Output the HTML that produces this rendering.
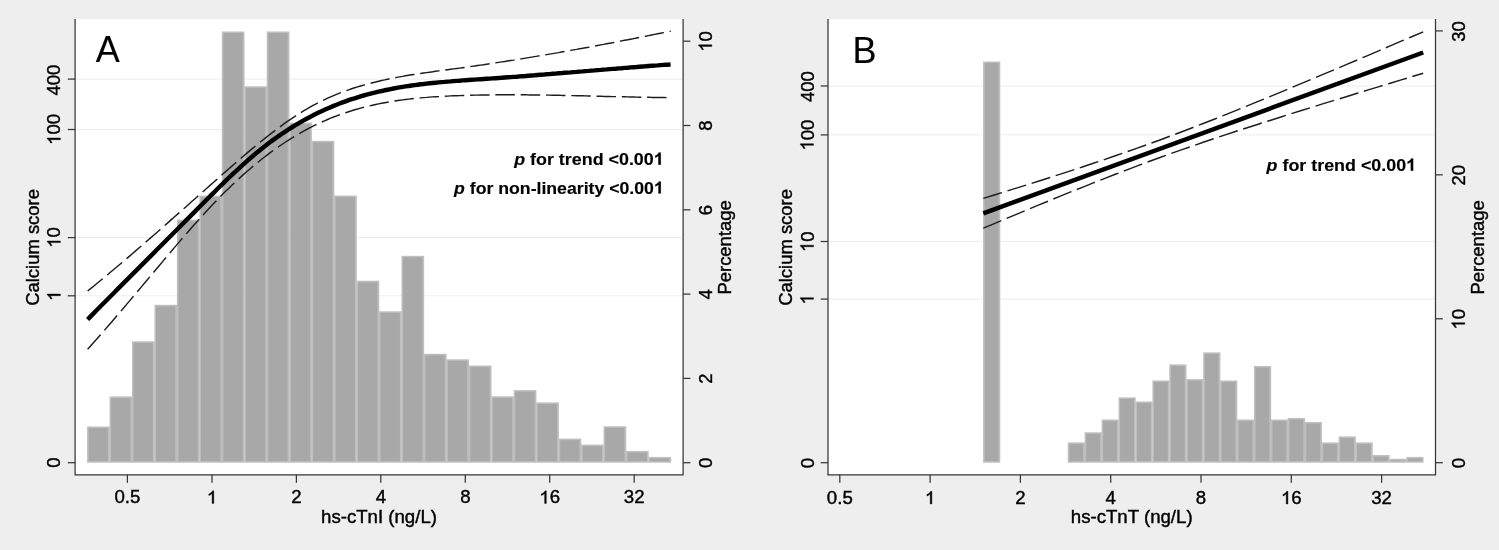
<!DOCTYPE html>
<html><head><meta charset="utf-8"><title>Figure</title>
<style>
html,body{margin:0;padding:0;background:#eeeeee;}
body{width:1499px;height:550px;overflow:hidden;}
svg{will-change:transform;position:absolute;left:0;top:0;display:block;font-family:"Liberation Sans",sans-serif;}
text,.g{fill:#000;stroke:#000;stroke-width:0.4px;}
.h{fill:none;stroke:none;}
</style></head><body>
<svg width="1499" height="550" viewBox="0 0 1499 550">
<rect width="1499" height="550" fill="#eeeeee"/>
<g style="filter:blur(0.4px)">
<rect x="-5" y="-5" width="1509" height="560" fill="#eeeeee"/>
<rect x="75.1" y="19.1" width="608.0" height="455.7" fill="#fff"/>
<line x1="75.1" x2="683.1" y1="295.8" y2="295.8" stroke="#ededed" stroke-width="1"/>
<line x1="75.1" x2="683.1" y1="237.6" y2="237.6" stroke="#ededed" stroke-width="1"/>
<line x1="75.1" x2="683.1" y1="129.5" y2="129.5" stroke="#ededed" stroke-width="1"/>
<line x1="75.1" x2="683.1" y1="79.1" y2="79.1" stroke="#ededed" stroke-width="1"/>
<rect x="87.10" y="426.50" width="22.70" height="36.20" fill="#bebebe"/>
<rect x="109.55" y="396.40" width="22.70" height="66.30" fill="#bebebe"/>
<rect x="132.01" y="341.30" width="22.70" height="121.40" fill="#bebebe"/>
<rect x="154.46" y="304.80" width="22.70" height="157.90" fill="#bebebe"/>
<rect x="176.92" y="219.60" width="22.70" height="243.10" fill="#bebebe"/>
<rect x="199.37" y="195.60" width="22.70" height="267.10" fill="#bebebe"/>
<rect x="221.82" y="31.50" width="22.70" height="431.20" fill="#bebebe"/>
<rect x="244.28" y="86.30" width="22.70" height="376.40" fill="#bebebe"/>
<rect x="266.73" y="31.50" width="22.70" height="431.20" fill="#bebebe"/>
<rect x="289.19" y="122.60" width="22.70" height="340.10" fill="#bebebe"/>
<rect x="311.64" y="140.80" width="22.70" height="321.90" fill="#bebebe"/>
<rect x="334.09" y="195.60" width="22.70" height="267.10" fill="#bebebe"/>
<rect x="356.55" y="280.70" width="22.70" height="182.00" fill="#bebebe"/>
<rect x="379.00" y="311.30" width="22.70" height="151.40" fill="#bebebe"/>
<rect x="401.46" y="255.80" width="22.70" height="206.90" fill="#bebebe"/>
<rect x="423.91" y="353.80" width="22.70" height="108.90" fill="#bebebe"/>
<rect x="446.36" y="359.30" width="22.70" height="103.40" fill="#bebebe"/>
<rect x="468.82" y="365.50" width="22.70" height="97.20" fill="#bebebe"/>
<rect x="491.27" y="396.30" width="22.70" height="66.40" fill="#bebebe"/>
<rect x="513.73" y="390.10" width="22.70" height="72.60" fill="#bebebe"/>
<rect x="536.18" y="402.40" width="22.70" height="60.30" fill="#bebebe"/>
<rect x="558.63" y="438.60" width="22.70" height="24.10" fill="#bebebe"/>
<rect x="581.09" y="444.60" width="22.70" height="18.10" fill="#bebebe"/>
<rect x="603.54" y="426.30" width="22.70" height="36.40" fill="#bebebe"/>
<rect x="626.00" y="450.90" width="22.70" height="11.80" fill="#bebebe"/>
<rect x="648.45" y="456.90" width="22.70" height="5.80" fill="#bebebe"/>
<rect x="88.65" y="428.05" width="19.35" height="33.10" fill="#a8a8a8"/>
<rect x="111.10" y="397.95" width="19.35" height="63.20" fill="#a8a8a8"/>
<rect x="133.56" y="342.85" width="19.35" height="118.30" fill="#a8a8a8"/>
<rect x="156.01" y="306.35" width="19.35" height="154.80" fill="#a8a8a8"/>
<rect x="178.47" y="221.15" width="19.35" height="240.00" fill="#a8a8a8"/>
<rect x="200.92" y="197.15" width="19.35" height="264.00" fill="#a8a8a8"/>
<rect x="223.37" y="33.05" width="19.35" height="428.10" fill="#a8a8a8"/>
<rect x="245.83" y="87.85" width="19.35" height="373.30" fill="#a8a8a8"/>
<rect x="268.28" y="33.05" width="19.35" height="428.10" fill="#a8a8a8"/>
<rect x="290.74" y="124.15" width="19.35" height="337.00" fill="#a8a8a8"/>
<rect x="313.19" y="142.35" width="19.35" height="318.80" fill="#a8a8a8"/>
<rect x="335.64" y="197.15" width="19.35" height="264.00" fill="#a8a8a8"/>
<rect x="358.10" y="282.25" width="19.35" height="178.90" fill="#a8a8a8"/>
<rect x="380.55" y="312.85" width="19.35" height="148.30" fill="#a8a8a8"/>
<rect x="403.01" y="257.35" width="19.35" height="203.80" fill="#a8a8a8"/>
<rect x="425.46" y="355.35" width="19.35" height="105.80" fill="#a8a8a8"/>
<rect x="447.91" y="360.85" width="19.35" height="100.30" fill="#a8a8a8"/>
<rect x="470.37" y="367.05" width="19.35" height="94.10" fill="#a8a8a8"/>
<rect x="492.82" y="397.85" width="19.35" height="63.30" fill="#a8a8a8"/>
<rect x="515.28" y="391.65" width="19.35" height="69.50" fill="#a8a8a8"/>
<rect x="537.73" y="403.95" width="19.35" height="57.20" fill="#a8a8a8"/>
<rect x="560.18" y="440.15" width="19.35" height="21.00" fill="#a8a8a8"/>
<rect x="582.64" y="446.15" width="19.35" height="15.00" fill="#a8a8a8"/>
<rect x="605.09" y="427.85" width="19.35" height="33.30" fill="#a8a8a8"/>
<rect x="627.55" y="452.45" width="19.35" height="8.70" fill="#a8a8a8"/>
<rect x="650.00" y="458.45" width="19.35" height="2.70" fill="#a8a8a8"/>
<path d="M87.6 291.0 L90.6 288.6 L93.6 286.2 L96.6 283.7 L99.6 281.3 L102.6 278.8 L105.6 276.3 L108.6 273.8 L111.6 271.3 L114.6 268.8 L117.6 266.3 L120.6 263.7 L123.6 261.2 L126.6 258.6 L129.6 256.1 L132.6 253.5 L135.6 250.9 L138.6 248.3 L141.6 245.7 L144.6 243.1 L147.6 240.5 L150.6 237.9 L153.6 235.3 L156.6 232.7 L159.6 230.0 L162.6 227.4 L165.6 224.7 L168.6 222.1 L171.6 219.4 L174.6 216.8 L177.6 214.1 L180.6 211.5 L183.6 208.8 L186.6 206.2 L189.6 203.5 L192.6 200.8 L195.6 198.2 L198.6 195.5 L201.6 192.9 L204.6 190.2 L207.6 187.5 L210.6 184.9 L213.6 182.2 L216.6 179.6 L219.6 176.9 L222.6 174.3 L225.6 171.6 L228.6 169.0 L231.6 166.4 L234.6 163.8 L237.6 161.2 L240.6 158.6 L243.6 156.0 L246.6 153.4 L249.6 150.9 L252.6 148.4 L255.6 145.9 L258.6 143.4 L261.6 141.0 L264.6 138.6 L267.6 136.2 L270.6 133.9 L273.6 131.6 L276.6 129.3 L279.6 127.1 L282.6 124.9 L285.6 122.7 L288.6 120.6 L291.6 118.6 L294.6 116.6 L297.6 114.6 L300.6 112.7 L303.6 110.9 L306.6 109.1 L309.6 107.4 L312.6 105.7 L315.6 104.1 L318.6 102.6 L321.6 101.1 L324.6 99.6 L327.6 98.2 L330.6 96.9 L333.6 95.6 L336.6 94.4 L339.6 93.2 L342.6 92.0 L345.6 90.9 L348.6 89.9 L351.6 88.8 L354.6 87.8 L357.6 86.9 L360.6 86.0 L363.6 85.1 L366.6 84.3 L369.6 83.5 L372.6 82.7 L375.6 82.0 L378.6 81.2 L381.6 80.5 L384.6 79.9 L387.6 79.2 L390.6 78.6 L393.6 78.0 L396.6 77.4 L399.6 76.9 L402.6 76.4 L405.6 75.8 L408.6 75.3 L411.6 74.8 L414.6 74.4 L417.6 73.9 L420.6 73.5 L423.6 73.0 L426.6 72.6 L429.6 72.2 L432.6 71.8 L435.6 71.3 L438.6 70.9 L441.6 70.5 L444.6 70.1 L447.6 69.7 L450.6 69.3 L453.6 68.9 L456.6 68.5 L459.6 68.1 L462.6 67.7 L465.6 67.3 L468.6 66.8 L471.6 66.4 L474.6 66.0 L477.6 65.5 L480.6 65.1 L483.6 64.7 L486.6 64.2 L489.6 63.8 L492.6 63.3 L495.6 62.9 L498.6 62.4 L501.6 61.9 L504.6 61.5 L507.6 61.0 L510.6 60.5 L513.6 60.1 L516.6 59.6 L519.6 59.1 L522.6 58.6 L525.6 58.1 L528.6 57.6 L531.6 57.1 L534.6 56.6 L537.6 56.1 L540.6 55.6 L543.6 55.1 L546.6 54.6 L549.6 54.1 L552.6 53.6 L555.6 53.1 L558.6 52.6 L561.6 52.0 L564.6 51.5 L567.6 51.0 L570.6 50.4 L573.6 49.9 L576.6 49.4 L579.6 48.8 L582.6 48.3 L585.6 47.7 L588.6 47.2 L591.6 46.6 L594.6 46.1 L597.6 45.5 L600.6 44.9 L603.6 44.4 L606.6 43.8 L609.6 43.2 L612.6 42.7 L615.6 42.1 L618.6 41.5 L621.6 40.9 L624.6 40.3 L627.6 39.8 L630.6 39.2 L633.6 38.6 L636.6 38.0 L639.6 37.4 L642.6 36.8 L645.6 36.2 L648.6 35.6 L651.6 35.0 L654.6 34.4 L657.6 33.8 L660.6 33.2 L663.6 32.6 L665.0 32.3" fill="none" stroke="#1c1c1c" stroke-width="1.45" stroke-dasharray="19.5 5.8" stroke-linejoin="round"/>
<path d="M87.6 349.2 L90.6 345.9 L93.6 342.5 L96.6 339.2 L99.6 335.8 L102.6 332.4 L105.6 328.9 L108.6 325.5 L111.6 322.0 L114.6 318.5 L117.6 315.0 L120.6 311.5 L123.6 308.0 L126.6 304.4 L129.6 300.9 L132.6 297.3 L135.6 293.8 L138.6 290.2 L141.6 286.6 L144.6 283.0 L147.6 279.5 L150.6 275.9 L153.6 272.3 L156.6 268.7 L159.6 265.2 L162.6 261.6 L165.6 258.0 L168.6 254.5 L171.6 251.0 L174.6 247.4 L177.6 243.9 L180.6 240.4 L183.6 236.9 L186.6 233.5 L189.6 230.0 L192.6 226.6 L195.6 223.2 L198.6 219.9 L201.6 216.5 L204.6 213.2 L207.6 210.0 L210.6 206.8 L213.6 203.6 L216.6 200.5 L219.6 197.4 L222.6 194.3 L225.6 191.3 L228.6 188.4 L231.6 185.5 L234.6 182.7 L237.6 179.9 L240.6 177.1 L243.6 174.4 L246.6 171.8 L249.6 169.2 L252.6 166.6 L255.6 164.1 L258.6 161.7 L261.6 159.3 L264.6 157.0 L267.6 154.7 L270.6 152.4 L273.6 150.2 L276.6 148.1 L279.6 146.0 L282.6 144.0 L285.6 142.0 L288.6 140.1 L291.6 138.2 L294.6 136.3 L297.6 134.5 L300.6 132.8 L303.6 131.1 L306.6 129.5 L309.6 127.9 L312.6 126.4 L315.6 124.9 L318.6 123.5 L321.6 122.1 L324.6 120.8 L327.6 119.5 L330.6 118.2 L333.6 117.0 L336.6 115.9 L339.6 114.8 L342.6 113.7 L345.6 112.7 L348.6 111.7 L351.6 110.8 L354.6 109.8 L357.6 109.0 L360.6 108.1 L363.6 107.3 L366.6 106.6 L369.6 105.9 L372.6 105.2 L375.6 104.5 L378.6 103.9 L381.6 103.3 L384.6 102.7 L387.6 102.2 L390.6 101.7 L393.6 101.2 L396.6 100.7 L399.6 100.3 L402.6 99.9 L405.6 99.5 L408.6 99.1 L411.6 98.8 L414.6 98.5 L417.6 98.2 L420.6 97.9 L423.6 97.6 L426.6 97.4 L429.6 97.1 L432.6 96.9 L435.6 96.7 L438.6 96.6 L441.6 96.4 L444.6 96.2 L447.6 96.1 L450.6 95.9 L453.6 95.8 L456.6 95.7 L459.6 95.6 L462.6 95.5 L465.6 95.4 L468.6 95.3 L471.6 95.2 L474.6 95.1 L477.6 95.1 L480.6 95.0 L483.6 95.0 L486.6 94.9 L489.6 94.9 L492.6 94.8 L495.6 94.8 L498.6 94.8 L501.6 94.8 L504.6 94.8 L507.6 94.8 L510.6 94.8 L513.6 94.8 L516.6 94.8 L519.6 94.8 L522.6 94.8 L525.6 94.8 L528.6 94.9 L531.6 94.9 L534.6 94.9 L537.6 95.0 L540.6 95.0 L543.6 95.0 L546.6 95.1 L549.6 95.1 L552.6 95.2 L555.6 95.2 L558.6 95.3 L561.6 95.4 L564.6 95.4 L567.6 95.5 L570.6 95.6 L573.6 95.6 L576.6 95.7 L579.6 95.8 L582.6 95.8 L585.6 95.9 L588.6 96.0 L591.6 96.1 L594.6 96.1 L597.6 96.2 L600.6 96.3 L603.6 96.4 L606.6 96.4 L609.6 96.5 L612.6 96.6 L615.6 96.6 L618.6 96.7 L621.6 96.8 L624.6 96.8 L627.6 96.9 L630.6 97.0 L633.6 97.0 L636.6 97.1 L639.6 97.2 L642.6 97.2 L645.6 97.3 L648.6 97.3 L651.6 97.4 L654.6 97.4 L657.6 97.5 L660.6 97.5 L663.6 97.5 L666.6 97.6 L668.0 97.6" fill="none" stroke="#1c1c1c" stroke-width="1.45" stroke-dasharray="19.5 5.8" stroke-linejoin="round"/>
<path d="M87.6 319.5 L90.6 316.4 L93.6 313.4 L96.6 310.3 L99.6 307.3 L102.6 304.3 L105.6 301.2 L108.6 298.2 L111.6 295.2 L114.6 292.2 L117.6 289.1 L120.6 286.1 L123.6 283.1 L126.6 280.1 L129.6 277.1 L132.6 274.1 L135.6 271.1 L138.6 268.1 L141.6 265.1 L144.6 262.1 L147.6 259.1 L150.6 256.1 L153.6 253.1 L156.6 250.0 L159.6 247.0 L162.6 244.0 L165.6 241.0 L168.6 238.0 L171.6 235.0 L174.6 232.0 L177.6 229.0 L180.6 226.0 L183.6 223.0 L186.6 219.9 L189.6 216.9 L192.6 213.9 L195.6 210.9 L198.6 207.8 L201.6 204.8 L204.6 201.8 L207.6 198.8 L210.6 195.7 L213.6 192.8 L216.6 189.8 L219.6 186.8 L222.6 183.9 L225.6 180.9 L228.6 178.0 L231.6 175.2 L234.6 172.3 L237.6 169.6 L240.6 166.8 L243.6 164.1 L246.6 161.4 L249.6 158.8 L252.6 156.2 L255.6 153.6 L258.6 151.2 L261.6 148.7 L264.6 146.4 L267.6 144.1 L270.6 141.8 L273.6 139.6 L276.6 137.5 L279.6 135.4 L282.6 133.3 L285.6 131.3 L288.6 129.4 L291.6 127.5 L294.6 125.6 L297.6 123.9 L300.6 122.1 L303.6 120.4 L306.6 118.8 L309.6 117.2 L312.6 115.6 L315.6 114.1 L318.6 112.6 L321.6 111.2 L324.6 109.8 L327.6 108.5 L330.6 107.2 L333.6 105.9 L336.6 104.7 L339.6 103.5 L342.6 102.4 L345.6 101.3 L348.6 100.2 L351.6 99.2 L354.6 98.3 L357.6 97.3 L360.6 96.4 L363.6 95.5 L366.6 94.7 L369.6 93.9 L372.6 93.1 L375.6 92.4 L378.6 91.6 L381.6 91.0 L384.6 90.3 L387.6 89.7 L390.6 89.1 L393.6 88.5 L396.6 87.9 L399.6 87.4 L402.6 86.9 L405.6 86.4 L408.6 86.0 L411.6 85.5 L414.6 85.1 L417.6 84.7 L420.6 84.3 L423.6 84.0 L426.6 83.6 L429.6 83.3 L432.6 83.0 L435.6 82.7 L438.6 82.4 L441.6 82.1 L444.6 81.9 L447.6 81.6 L450.6 81.4 L453.6 81.1 L456.6 80.9 L459.6 80.7 L462.6 80.4 L465.6 80.2 L468.6 80.0 L471.6 79.8 L474.6 79.6 L477.6 79.4 L480.6 79.2 L483.6 79.0 L486.6 78.8 L489.6 78.6 L492.6 78.4 L495.6 78.2 L498.6 78.0 L501.6 77.8 L504.6 77.5 L507.6 77.3 L510.6 77.1 L513.6 76.9 L516.6 76.7 L519.6 76.4 L522.6 76.2 L525.6 76.0 L528.6 75.7 L531.6 75.5 L534.6 75.3 L537.6 75.0 L540.6 74.8 L543.6 74.6 L546.6 74.3 L549.6 74.1 L552.6 73.8 L555.6 73.6 L558.6 73.3 L561.6 73.1 L564.6 72.8 L567.6 72.6 L570.6 72.4 L573.6 72.1 L576.6 71.9 L579.6 71.6 L582.6 71.4 L585.6 71.1 L588.6 70.9 L591.6 70.6 L594.6 70.4 L597.6 70.1 L600.6 69.9 L603.6 69.6 L606.6 69.4 L609.6 69.1 L612.6 68.9 L615.6 68.7 L618.6 68.4 L621.6 68.2 L624.6 67.9 L627.6 67.7 L630.6 67.4 L633.6 67.2 L636.6 67.0 L639.6 66.7 L642.6 66.5 L645.6 66.3 L648.6 66.0 L651.6 65.8 L654.6 65.6 L657.6 65.4 L660.6 65.1 L663.6 64.9 L666.6 64.7 L669.6 64.5 L670.6 64.4" fill="none" stroke="#000" stroke-width="4.45" stroke-linejoin="round"/>
<circle cx="670.2" cy="31.3" r="0.8" fill="#222"/>
<g transform="translate(663.7 164.8) scale(1.052 1)"><text text-anchor="end" font-size="17" font-weight="bold" style="stroke-width:0.15px"><tspan font-style="italic">p</tspan> for trend &lt;0.00<tspan class="h">1</tspan></text><path d="M-2.76 0.00H-5.09V-8.79Q-6.37 -7.60 -8.11 -7.02V-9.14Q-7.19 -9.44 -6.12 -10.27Q-5.05 -11.11 -4.65 -12.22H-2.76Z" class="g" style="stroke-width:0.15px"/></g>
<g transform="translate(663.7 193.6) scale(1.04 1)"><text text-anchor="end" font-size="17" font-weight="bold" style="stroke-width:0.15px"><tspan font-style="italic">p</tspan> for non-linearity &lt;0.00<tspan class="h">1</tspan></text><path d="M-2.76 0.00H-5.09V-8.79Q-6.37 -7.60 -8.11 -7.02V-9.14Q-7.19 -9.44 -6.12 -10.27Q-5.05 -11.11 -4.65 -12.22H-2.76Z" class="g" style="stroke-width:0.15px"/></g>
<path d="M75.1 19.1V474.8H683.1V19.1" fill="none" stroke="#363636" stroke-width="1.25"/>
<line x1="67.8" x2="75.1" y1="462.7" y2="462.7" stroke="#363636" stroke-width="1.25"/>
<g transform="translate(60.4 462.7) rotate(-90) scale(1.008 1)"><text text-anchor="middle" font-size="18.3">0</text></g>
<line x1="67.8" x2="75.1" y1="295.8" y2="295.8" stroke="#363636" stroke-width="1.25"/>
<g transform="translate(60.4 295.8) rotate(-90) scale(1.008 1)"><text text-anchor="middle" font-size="18.3"><tspan class="h">1</tspan></text><path d="M1.73 0.00H0.12V-10.25Q-0.46 -9.70 -1.40 -9.14Q-2.34 -8.59 -3.09 -8.31V-9.87Q-1.75 -10.50 -0.74 -11.40Q0.27 -12.30 0.69 -13.15H1.73Z" class="g"/></g>
<line x1="67.8" x2="75.1" y1="237.6" y2="237.6" stroke="#363636" stroke-width="1.25"/>
<g transform="translate(60.4 237.6) rotate(-90) scale(1.008 1)"><text text-anchor="middle" font-size="18.3"><tspan class="h">1</tspan>0</text><path d="M-3.36 0.00H-4.96V-10.25Q-5.55 -9.70 -6.49 -9.14Q-7.43 -8.59 -8.18 -8.31V-9.87Q-6.83 -10.50 -5.82 -11.40Q-4.81 -12.30 -4.39 -13.15H-3.36Z" class="g"/></g>
<line x1="67.8" x2="75.1" y1="129.5" y2="129.5" stroke="#363636" stroke-width="1.25"/>
<g transform="translate(60.4 129.5) rotate(-90) scale(1.008 1)"><text text-anchor="middle" font-size="18.3"><tspan class="h">1</tspan>00</text><path d="M-8.44 0.00H-10.05V-10.25Q-10.63 -9.70 -11.58 -9.14Q-12.52 -8.59 -13.27 -8.31V-9.87Q-11.92 -10.50 -10.91 -11.40Q-9.90 -12.30 -9.48 -13.15H-8.44Z" class="g"/></g>
<line x1="67.8" x2="75.1" y1="79.1" y2="79.1" stroke="#363636" stroke-width="1.25"/>
<g transform="translate(60.4 80.19999999999999) rotate(-90) scale(1.008 1)"><text text-anchor="middle" font-size="18.3">400</text></g>
<line x1="683.1" x2="690.4" y1="462.7" y2="462.7" stroke="#363636" stroke-width="1.25"/>
<g transform="translate(711.8 462.9) rotate(-90) scale(1.008 1)"><text text-anchor="middle" font-size="18.3">0</text></g>
<line x1="683.1" x2="690.4" y1="378.4" y2="378.4" stroke="#363636" stroke-width="1.25"/>
<g transform="translate(711.8 378.59999999999997) rotate(-90) scale(1.008 1)"><text text-anchor="middle" font-size="18.3">2</text></g>
<line x1="683.1" x2="690.4" y1="294.1" y2="294.1" stroke="#363636" stroke-width="1.25"/>
<g transform="translate(711.8 294.3) rotate(-90) scale(1.008 1)"><text text-anchor="middle" font-size="18.3">4</text></g>
<line x1="683.1" x2="690.4" y1="209.8" y2="209.8" stroke="#363636" stroke-width="1.25"/>
<g transform="translate(711.8 210.0) rotate(-90) scale(1.008 1)"><text text-anchor="middle" font-size="18.3">6</text></g>
<line x1="683.1" x2="690.4" y1="125.5" y2="125.5" stroke="#363636" stroke-width="1.25"/>
<g transform="translate(711.8 125.7) rotate(-90) scale(1.008 1)"><text text-anchor="middle" font-size="18.3">8</text></g>
<line x1="683.1" x2="690.4" y1="41.19999999999999" y2="41.19999999999999" stroke="#363636" stroke-width="1.25"/>
<g transform="translate(711.8 41.39999999999999) rotate(-90) scale(1.008 1)"><text text-anchor="middle" font-size="18.3"><tspan class="h">1</tspan>0</text><path d="M-3.36 0.00H-4.96V-10.25Q-5.55 -9.70 -6.49 -9.14Q-7.43 -8.59 -8.18 -8.31V-9.87Q-6.83 -10.50 -5.82 -11.40Q-4.81 -12.30 -4.39 -13.15H-3.36Z" class="g"/></g>
<line x1="127.4" x2="127.4" y1="474.8" y2="482.8" stroke="#363636" stroke-width="1.25"/>
<g transform="translate(127.4 503.4) scale(1.065 1)"><text text-anchor="middle" font-size="17.5">0.5</text></g>
<line x1="212.0" x2="212.0" y1="474.8" y2="482.8" stroke="#363636" stroke-width="1.25"/>
<g transform="translate(212.0 503.4) scale(1.065 1)"><text text-anchor="middle" font-size="17.5"><tspan class="h">1</tspan></text><path d="M1.66 0.00H0.12V-9.80Q-0.44 -9.27 -1.34 -8.74Q-2.24 -8.21 -2.96 -7.95V-9.43Q-1.67 -10.04 -0.70 -10.90Q0.26 -11.77 0.66 -12.58H1.66Z" class="g"/></g>
<line x1="296.4" x2="296.4" y1="474.8" y2="482.8" stroke="#363636" stroke-width="1.25"/>
<g transform="translate(296.4 503.4) scale(1.065 1)"><text text-anchor="middle" font-size="17.5">2</text></g>
<line x1="380.8" x2="380.8" y1="474.8" y2="482.8" stroke="#363636" stroke-width="1.25"/>
<g transform="translate(380.8 503.4) scale(1.065 1)"><text text-anchor="middle" font-size="17.5">4</text></g>
<line x1="465.3" x2="465.3" y1="474.8" y2="482.8" stroke="#363636" stroke-width="1.25"/>
<g transform="translate(465.3 503.4) scale(1.065 1)"><text text-anchor="middle" font-size="17.5">8</text></g>
<line x1="549.7" x2="549.7" y1="474.8" y2="482.8" stroke="#363636" stroke-width="1.25"/>
<g transform="translate(549.7 503.4) scale(1.065 1)"><text text-anchor="middle" font-size="17.5"><tspan class="h">1</tspan>6</text><path d="M-3.21 0.00H-4.75V-9.80Q-5.30 -9.27 -6.21 -8.74Q-7.11 -8.21 -7.82 -7.95V-9.43Q-6.53 -10.04 -5.57 -10.90Q-4.60 -11.77 -4.20 -12.58H-3.21Z" class="g"/></g>
<line x1="634.2" x2="634.2" y1="474.8" y2="482.8" stroke="#363636" stroke-width="1.25"/>
<g transform="translate(634.2 503.4) scale(1.065 1)"><text text-anchor="middle" font-size="17.5">32</text></g>
<g transform="translate(379 523.0) scale(1.065 1)"><text text-anchor="middle" font-size="17.5">hs-cTnI (ng/L)</text></g>
<g transform="translate(39.3 247.4) rotate(-90) scale(1.008 1)"><text text-anchor="middle" font-size="18.3">Calcium score</text></g>
<g transform="translate(731 247.4) rotate(-90) scale(1.008 1)"><text text-anchor="middle" font-size="18.3">Percentage</text></g>
<text x="95.8" y="62.2" font-size="36" style="stroke-width:0.1px">A</text>
<rect x="828.0" y="19.1" width="607.5" height="455.7" fill="#fff"/>
<line x1="828.0" x2="1435.5" y1="299.1" y2="299.1" stroke="#ededed" stroke-width="1"/>
<line x1="828.0" x2="1435.5" y1="241.5" y2="241.5" stroke="#ededed" stroke-width="1"/>
<line x1="828.0" x2="1435.5" y1="134.9" y2="134.9" stroke="#ededed" stroke-width="1"/>
<line x1="828.0" x2="1435.5" y1="86.0" y2="86.0" stroke="#ededed" stroke-width="1"/>
<rect x="983.10" y="61.50" width="17.18" height="401.20" fill="#bebebe"/>
<rect x="1067.75" y="442.40" width="17.18" height="20.30" fill="#bebebe"/>
<rect x="1084.68" y="432.30" width="17.18" height="30.40" fill="#bebebe"/>
<rect x="1101.61" y="419.50" width="17.18" height="43.20" fill="#bebebe"/>
<rect x="1118.54" y="397.40" width="17.18" height="65.30" fill="#bebebe"/>
<rect x="1135.47" y="401.50" width="17.18" height="61.20" fill="#bebebe"/>
<rect x="1152.40" y="380.50" width="17.18" height="82.20" fill="#bebebe"/>
<rect x="1169.33" y="364.40" width="17.18" height="98.30" fill="#bebebe"/>
<rect x="1186.26" y="379.10" width="17.18" height="83.60" fill="#bebebe"/>
<rect x="1203.19" y="352.40" width="17.18" height="110.30" fill="#bebebe"/>
<rect x="1220.12" y="380.50" width="17.18" height="82.20" fill="#bebebe"/>
<rect x="1237.05" y="419.50" width="17.18" height="43.20" fill="#bebebe"/>
<rect x="1253.98" y="366.00" width="17.18" height="96.70" fill="#bebebe"/>
<rect x="1270.91" y="419.50" width="17.18" height="43.20" fill="#bebebe"/>
<rect x="1287.84" y="417.90" width="17.18" height="44.80" fill="#bebebe"/>
<rect x="1304.77" y="422.00" width="17.18" height="40.70" fill="#bebebe"/>
<rect x="1321.70" y="442.40" width="17.18" height="20.30" fill="#bebebe"/>
<rect x="1338.63" y="436.40" width="17.18" height="26.30" fill="#bebebe"/>
<rect x="1355.56" y="442.40" width="17.18" height="20.30" fill="#bebebe"/>
<rect x="1372.49" y="455.00" width="17.18" height="7.70" fill="#bebebe"/>
<rect x="1389.42" y="458.80" width="17.18" height="3.90" fill="#bebebe"/>
<rect x="1406.35" y="456.90" width="17.18" height="5.80" fill="#bebebe"/>
<rect x="984.65" y="63.05" width="13.83" height="398.10" fill="#a8a8a8"/>
<rect x="1069.30" y="443.95" width="13.83" height="17.20" fill="#a8a8a8"/>
<rect x="1086.23" y="433.85" width="13.83" height="27.30" fill="#a8a8a8"/>
<rect x="1103.16" y="421.05" width="13.83" height="40.10" fill="#a8a8a8"/>
<rect x="1120.09" y="398.95" width="13.83" height="62.20" fill="#a8a8a8"/>
<rect x="1137.02" y="403.05" width="13.83" height="58.10" fill="#a8a8a8"/>
<rect x="1153.95" y="382.05" width="13.83" height="79.10" fill="#a8a8a8"/>
<rect x="1170.88" y="365.95" width="13.83" height="95.20" fill="#a8a8a8"/>
<rect x="1187.81" y="380.65" width="13.83" height="80.50" fill="#a8a8a8"/>
<rect x="1204.74" y="353.95" width="13.83" height="107.20" fill="#a8a8a8"/>
<rect x="1221.67" y="382.05" width="13.83" height="79.10" fill="#a8a8a8"/>
<rect x="1238.60" y="421.05" width="13.83" height="40.10" fill="#a8a8a8"/>
<rect x="1255.53" y="367.55" width="13.83" height="93.60" fill="#a8a8a8"/>
<rect x="1272.46" y="421.05" width="13.83" height="40.10" fill="#a8a8a8"/>
<rect x="1289.39" y="419.45" width="13.83" height="41.70" fill="#a8a8a8"/>
<rect x="1306.32" y="423.55" width="13.83" height="37.60" fill="#a8a8a8"/>
<rect x="1323.25" y="443.95" width="13.83" height="17.20" fill="#a8a8a8"/>
<rect x="1340.18" y="437.95" width="13.83" height="23.20" fill="#a8a8a8"/>
<rect x="1357.11" y="443.95" width="13.83" height="17.20" fill="#a8a8a8"/>
<rect x="1374.04" y="456.55" width="13.83" height="4.60" fill="#a8a8a8"/>
<rect x="1390.97" y="460.35" width="13.83" height="0.80" fill="#a8a8a8"/>
<rect x="1407.90" y="458.45" width="13.83" height="2.70" fill="#a8a8a8"/>
<path d="M983.3 198.4 L994.3 195.0 L1005.3 191.6 L1016.3 188.1 L1027.3 184.7 L1038.3 181.2 L1049.3 177.7 L1060.3 174.1 L1071.3 170.6 L1082.3 167.0 L1093.3 163.3 L1104.3 159.6 L1115.3 155.8 L1126.3 152.0 L1137.3 148.1 L1148.3 144.2 L1159.3 140.2 L1170.3 136.1 L1181.3 132.0 L1192.3 127.7 L1203.2 123.5 L1214.2 119.2 L1225.2 114.8 L1236.2 110.4 L1247.2 105.9 L1258.2 101.4 L1269.2 96.9 L1280.2 92.3 L1291.2 87.8 L1302.2 83.2 L1313.2 78.6 L1324.2 73.9 L1335.2 69.3 L1346.2 64.6 L1357.2 60.0 L1368.2 55.3 L1379.2 50.6 L1390.2 45.9 L1401.2 41.2 L1412.2 36.5 L1423.2 31.8" fill="none" stroke="#1c1c1c" stroke-width="1.45" stroke-dasharray="19.5 5.8" stroke-linejoin="round"/>
<path d="M983.3 228.2 L994.3 223.6 L1005.3 218.9 L1016.3 214.3 L1027.3 209.8 L1038.3 205.2 L1049.3 200.7 L1060.3 196.2 L1071.3 191.7 L1082.3 187.3 L1093.3 182.9 L1104.3 178.6 L1115.3 174.3 L1126.3 170.1 L1137.3 165.9 L1148.3 161.8 L1159.3 157.8 L1170.3 153.8 L1181.3 149.9 L1192.3 146.1 L1203.2 142.3 L1214.2 138.6 L1225.2 134.9 L1236.2 131.3 L1247.2 127.7 L1258.2 124.2 L1269.2 120.7 L1280.2 117.2 L1291.2 113.7 L1302.2 110.3 L1313.2 106.9 L1324.2 103.4 L1335.2 100.1 L1346.2 96.7 L1357.2 93.3 L1368.2 89.9 L1379.2 86.6 L1390.2 83.2 L1401.2 79.9 L1412.2 76.6 L1423.2 73.3" fill="none" stroke="#1c1c1c" stroke-width="1.45" stroke-dasharray="19.5 5.8" stroke-linejoin="round"/>
<path d="M983.3 213.3 L1423.2 52.5" fill="none" stroke="#000" stroke-width="4.45" stroke-linejoin="round"/>
<g transform="translate(1416.1 170.7) scale(1.052 1)"><text text-anchor="end" font-size="17" font-weight="bold" style="stroke-width:0.15px"><tspan font-style="italic">p</tspan> for trend &lt;0.00<tspan class="h">1</tspan></text><path d="M-2.76 0.00H-5.09V-8.79Q-6.37 -7.60 -8.11 -7.02V-9.14Q-7.19 -9.44 -6.12 -10.27Q-5.05 -11.11 -4.65 -12.22H-2.76Z" class="g" style="stroke-width:0.15px"/></g>
<path d="M828.0 19.1V474.8H1435.5V19.1" fill="none" stroke="#363636" stroke-width="1.25"/>
<line x1="820.7" x2="828.0" y1="462.7" y2="462.7" stroke="#363636" stroke-width="1.25"/>
<g transform="translate(813.5 463.0) rotate(-90) scale(1.008 1)"><text text-anchor="middle" font-size="18.3">0</text></g>
<line x1="820.7" x2="828.0" y1="299.1" y2="299.1" stroke="#363636" stroke-width="1.25"/>
<g transform="translate(813.5 299.40000000000003) rotate(-90) scale(1.008 1)"><text text-anchor="middle" font-size="18.3"><tspan class="h">1</tspan></text><path d="M1.73 0.00H0.12V-10.25Q-0.46 -9.70 -1.40 -9.14Q-2.34 -8.59 -3.09 -8.31V-9.87Q-1.75 -10.50 -0.74 -11.40Q0.27 -12.30 0.69 -13.15H1.73Z" class="g"/></g>
<line x1="820.7" x2="828.0" y1="241.5" y2="241.5" stroke="#363636" stroke-width="1.25"/>
<g transform="translate(813.5 241.8) rotate(-90) scale(1.008 1)"><text text-anchor="middle" font-size="18.3"><tspan class="h">1</tspan>0</text><path d="M-3.36 0.00H-4.96V-10.25Q-5.55 -9.70 -6.49 -9.14Q-7.43 -8.59 -8.18 -8.31V-9.87Q-6.83 -10.50 -5.82 -11.40Q-4.81 -12.30 -4.39 -13.15H-3.36Z" class="g"/></g>
<line x1="820.7" x2="828.0" y1="134.9" y2="134.9" stroke="#363636" stroke-width="1.25"/>
<g transform="translate(813.5 135.20000000000002) rotate(-90) scale(1.008 1)"><text text-anchor="middle" font-size="18.3"><tspan class="h">1</tspan>00</text><path d="M-8.44 0.00H-10.05V-10.25Q-10.63 -9.70 -11.58 -9.14Q-12.52 -8.59 -13.27 -8.31V-9.87Q-11.92 -10.50 -10.91 -11.40Q-9.90 -12.30 -9.48 -13.15H-8.44Z" class="g"/></g>
<line x1="820.7" x2="828.0" y1="86.0" y2="86.0" stroke="#363636" stroke-width="1.25"/>
<g transform="translate(813.5 86.6) rotate(-90) scale(1.008 1)"><text text-anchor="middle" font-size="18.3">400</text></g>
<line x1="1435.5" x2="1442.8" y1="462.7" y2="462.7" stroke="#363636" stroke-width="1.25"/>
<g transform="translate(1464.8 463.2) rotate(-90) scale(1.008 1)"><text text-anchor="middle" font-size="18.3">0</text></g>
<line x1="1435.5" x2="1442.8" y1="318.77" y2="318.77" stroke="#363636" stroke-width="1.25"/>
<g transform="translate(1464.8 319.27) rotate(-90) scale(1.008 1)"><text text-anchor="middle" font-size="18.3"><tspan class="h">1</tspan>0</text><path d="M-3.36 0.00H-4.96V-10.25Q-5.55 -9.70 -6.49 -9.14Q-7.43 -8.59 -8.18 -8.31V-9.87Q-6.83 -10.50 -5.82 -11.40Q-4.81 -12.30 -4.39 -13.15H-3.36Z" class="g"/></g>
<line x1="1435.5" x2="1442.8" y1="174.83999999999997" y2="174.83999999999997" stroke="#363636" stroke-width="1.25"/>
<g transform="translate(1464.8 175.33999999999997) rotate(-90) scale(1.008 1)"><text text-anchor="middle" font-size="18.3">20</text></g>
<line x1="1435.5" x2="1442.8" y1="30.909999999999968" y2="30.909999999999968" stroke="#363636" stroke-width="1.25"/>
<g transform="translate(1464.8 31.409999999999968) rotate(-90) scale(1.008 1)"><text text-anchor="middle" font-size="18.3">30</text></g>
<line x1="839.8" x2="839.8" y1="474.8" y2="482.8" stroke="#363636" stroke-width="1.25"/>
<g transform="translate(839.8 503.9) scale(1.065 1)"><text text-anchor="middle" font-size="17.5">0.5</text></g>
<line x1="930.1" x2="930.1" y1="474.8" y2="482.8" stroke="#363636" stroke-width="1.25"/>
<g transform="translate(930.1 503.9) scale(1.065 1)"><text text-anchor="middle" font-size="17.5"><tspan class="h">1</tspan></text><path d="M1.66 0.00H0.12V-9.80Q-0.44 -9.27 -1.34 -8.74Q-2.24 -8.21 -2.96 -7.95V-9.43Q-1.67 -10.04 -0.70 -10.90Q0.26 -11.77 0.66 -12.58H1.66Z" class="g"/></g>
<line x1="1020.4" x2="1020.4" y1="474.8" y2="482.8" stroke="#363636" stroke-width="1.25"/>
<g transform="translate(1020.4 503.9) scale(1.065 1)"><text text-anchor="middle" font-size="17.5">2</text></g>
<line x1="1110.7" x2="1110.7" y1="474.8" y2="482.8" stroke="#363636" stroke-width="1.25"/>
<g transform="translate(1110.7 503.9) scale(1.065 1)"><text text-anchor="middle" font-size="17.5">4</text></g>
<line x1="1201.0" x2="1201.0" y1="474.8" y2="482.8" stroke="#363636" stroke-width="1.25"/>
<g transform="translate(1201.0 503.9) scale(1.065 1)"><text text-anchor="middle" font-size="17.5">8</text></g>
<line x1="1291.3" x2="1291.3" y1="474.8" y2="482.8" stroke="#363636" stroke-width="1.25"/>
<g transform="translate(1291.3 503.9) scale(1.065 1)"><text text-anchor="middle" font-size="17.5"><tspan class="h">1</tspan>6</text><path d="M-3.21 0.00H-4.75V-9.80Q-5.30 -9.27 -6.21 -8.74Q-7.11 -8.21 -7.82 -7.95V-9.43Q-6.53 -10.04 -5.57 -10.90Q-4.60 -11.77 -4.20 -12.58H-3.21Z" class="g"/></g>
<line x1="1381.6" x2="1381.6" y1="474.8" y2="482.8" stroke="#363636" stroke-width="1.25"/>
<g transform="translate(1381.6 503.9) scale(1.065 1)"><text text-anchor="middle" font-size="17.5">32</text></g>
<g transform="translate(1131.7 523.2) scale(1.065 1)"><text text-anchor="middle" font-size="17.5">hs-cTnT (ng/L)</text></g>
<g transform="translate(791.9 247.4) rotate(-90) scale(1.008 1)"><text text-anchor="middle" font-size="18.3">Calcium score</text></g>
<g transform="translate(1484 247.4) rotate(-90) scale(1.008 1)"><text text-anchor="middle" font-size="18.3">Percentage</text></g>
<text x="852.5" y="62.8" font-size="36" style="stroke-width:0.1px">B</text>
</g>
</svg>
</body></html>
